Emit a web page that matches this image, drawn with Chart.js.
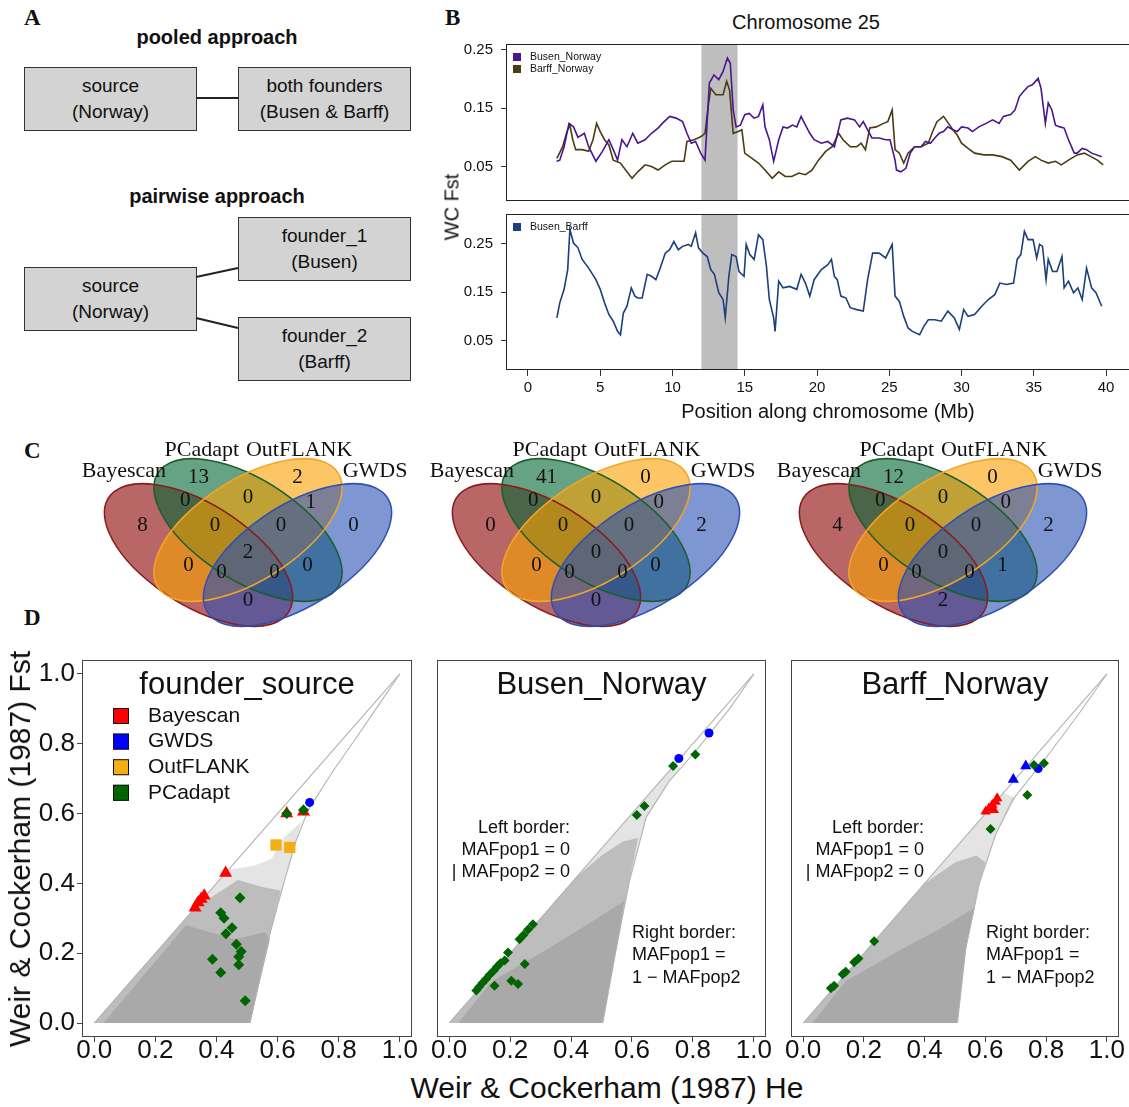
<!DOCTYPE html>
<html>
<head>
<meta charset="utf-8">
<title>Chromosome 25 Fst outliers</title>
<script src="https://cdn.jsdelivr.net/npm/chart.js@4.4.1/dist/chart.umd.min.js"></script>
<style>
  html, body { margin: 0; padding: 0; background: #fff; }
  body { position: relative; width: 1129px; height: 1107px; overflow: hidden;
         font-family: "Liberation Sans", Arial, sans-serif; color: #111; }
  canvas { position: absolute; }
  .letter { position: absolute; font: bold 23px "Liberation Serif", "Times New Roman", serif; }
  .head { position: absolute; font-weight: bold; font-size: 20px; line-height: 24px;
          white-space: nowrap; transform: translateX(-50%); }
  .node { position: absolute; box-sizing: border-box; width: 173px; height: 64px;
          border: 1.5px solid #333; background: #d3d3d3; text-align: center;
          font-size: 19px; line-height: 26px; padding-top: 5px; }
  .label { position: absolute; white-space: nowrap; }
</style>
</head>
<body>

<!-- A: sampling design -->
<div class="letter" style="left:24px;top:5px">A</div>
<div class="head" style="left:217px;top:25px">pooled approach</div>
<div class="node" style="left:24px;top:67px">source<br>(Norway)</div>
<div class="node" style="left:238px;top:67px">both founders<br>(Busen &amp; Barff)</div>
<div class="head" style="left:217px;top:184px">pairwise approach</div>
<div class="node" style="left:238px;top:217px">founder_1<br>(Busen)</div>
<div class="node" style="left:24px;top:267px">source<br>(Norway)</div>
<div class="node" style="left:238px;top:317px">founder_2<br>(Barff)</div>
<svg style="position:absolute;left:0;top:0" width="430" height="400">
  <g stroke="#222" stroke-width="2">
    <line x1="196" y1="98" x2="238" y2="98"/>
    <line x1="196" y1="277" x2="238" y2="268"/>
    <line x1="196" y1="318" x2="238" y2="328"/>
  </g>
</svg>

<!-- B: sliding window Fst -->
<div class="letter" style="left:445px;top:5px">B</div>
<div class="label" style="left:806px;top:11px;font-size:20px;transform:translateX(-50%)">Chromosome 25</div>
<canvas id="chrTop" width="720" height="193" style="left:430px;top:26px"></canvas>
<canvas id="chrBottom" width="720" height="232" style="left:430px;top:196px"></canvas>
<div class="label" style="left:452px;top:207px;font-size:20px;transform:translate(-50%,-50%) rotate(-90deg)">WC Fst</div>

<!-- C: Venn diagrams -->
<div class="letter" style="left:24px;top:438px">C</div>
<canvas id="venn1" width="350" height="215" style="left:73px;top:415px"></canvas>
<canvas id="venn2" width="350" height="215" style="left:420.5px;top:415px"></canvas>
<canvas id="venn3" width="350" height="215" style="left:768px;top:415px"></canvas>

<!-- D: Fst vs He -->
<div class="letter" style="left:24px;top:605px">D</div>
<canvas id="fst1" width="420" height="430" style="left:0;top:640px"></canvas>
<canvas id="fst2" width="360" height="430" style="left:420px;top:640px"></canvas>
<canvas id="fst3" width="354" height="430" style="left:775px;top:640px"></canvas>
<div class="label" style="left:20px;top:849px;font-size:30px;transform:translate(-50%,-50%) rotate(-90deg)">Weir &amp; Cockerham (1987) Fst</div>
<div class="label" style="left:607px;top:1071px;font-size:30px;transform:translateX(-50%)">Weir &amp; Cockerham (1987) He</div>

<script>
// ---------- B: WC Fst along chromosome 25 (Mb, Fst) ----------
const chromTicksX = [0, 5, 10, 15, 20, 25, 30, 35, 40];
const chromTicksY = [0.05, 0.15, 0.25];
const highlightMb = [12, 14.5];

const busenNorway = [
  [1.98,0.059],[2.2,0.061],[2.5,0.084],[2.84,0.124],[3.15,0.118],[3.46,0.100],[3.9,0.107],[4.2,0.084],
  [4.7,0.059],[5.15,0.076],[5.6,0.096],[5.9,0.079],[6.2,0.061],[6.5,0.096],[6.85,0.084],[7.25,0.107],
  [7.6,0.090],[8.1,0.096],[8.55,0.107],[9.0,0.116],[9.3,0.124],[9.8,0.136],[10.25,0.133],[10.7,0.127],
  [11.0,0.107],[11.3,0.090],[11.6,0.093],[11.95,0.073],[12.25,0.061],[12.55,0.193],[12.87,0.207],
  [13.2,0.199],[13.5,0.213],[13.8,0.236],[14.0,0.227],[14.2,0.147],[14.4,0.118],[14.7,0.121],
  [15.0,0.139],[15.3,0.141],[15.65,0.133],[15.95,0.136],[16.25,0.156],[16.4,0.118],[16.7,0.096],
  [17.0,0.059],[17.35,0.096],[17.65,0.118],[17.95,0.116],[18.3,0.121],[18.6,0.118],[18.9,0.136],
  [19.2,0.121],[19.5,0.107],[19.8,0.096],[20.3,0.090],[20.75,0.093],[21.2,0.084],[21.4,0.104],
  [21.65,0.130],[22.1,0.133],[22.6,0.130],[22.95,0.118],[23.2,0.127],[23.5,0.113],[23.8,0.099],
  [24.3,0.099],[24.75,0.096],[25.05,0.096],[25.4,0.061],[25.5,0.044],[25.8,0.041],[26.15,0.047],
  [26.45,0.073],[26.75,0.084],[27.2,0.084],[27.5,0.093],[27.85,0.090],[28.15,0.099],[28.45,0.107],
  [28.75,0.110],[29.05,0.118],[29.4,0.113],[29.7,0.110],[30.0,0.118],[30.45,0.116],[30.75,0.110],
  [31.2,0.118],[31.7,0.124],[32.15,0.130],[32.6,0.124],[32.9,0.136],[33.4,0.139],[33.7,0.147],
  [34.0,0.170],[34.3,0.179],[34.6,0.187],[34.9,0.190],[35.3,0.201],[35.5,0.184],[35.8,0.124],
  [36.0,0.159],[36.25,0.147],[36.5,0.121],[36.8,0.118],[37.1,0.116],[37.4,0.096],[37.8,0.073],
  [38.0,0.073],[38.35,0.081],[38.65,0.079],[39.0,0.073],[39.7,0.067]
];
const barffNorway = [
  [2.0,0.064],[2.4,0.084],[2.7,0.110],[2.9,0.121],[3.1,0.096],[3.3,0.079],[3.75,0.079],[4.2,0.076],
  [4.5,0.096],[4.75,0.124],[5.0,0.110],[5.3,0.096],[5.6,0.087],[5.9,0.061],[6.4,0.056],[6.85,0.041],
  [7.2,0.030],[7.6,0.041],[8.1,0.053],[8.55,0.050],[9.0,0.044],[9.5,0.053],[9.95,0.059],[10.4,0.059],
  [10.8,0.059],[11.0,0.093],[11.5,0.096],[11.95,0.101],[12.25,0.107],[12.5,0.159],[12.65,0.184],
  [13.0,0.173],[13.5,0.173],[13.75,0.196],[13.95,0.181],[14.2,0.107],[14.55,0.110],[14.8,0.113],
  [15.0,0.073],[15.5,0.064],[15.95,0.056],[16.4,0.044],[16.9,0.030],[17.35,0.041],[17.8,0.033],
  [18.25,0.033],[18.75,0.039],[19.2,0.036],[19.65,0.044],[20.1,0.061],[20.6,0.076],[21.05,0.084],
  [21.5,0.107],[21.8,0.096],[22.3,0.084],[22.75,0.084],[23.05,0.090],[23.35,0.079],[23.65,0.116],
  [24.1,0.118],[24.6,0.124],[24.9,0.127],[25.2,0.147],[25.4,0.079],[25.7,0.073],[26.0,0.056],
  [26.3,0.073],[26.75,0.084],[27.2,0.084],[27.7,0.090],[28.0,0.110],[28.3,0.127],[28.75,0.136],
  [29.1,0.124],[29.4,0.113],[29.7,0.104],[30.0,0.090],[30.45,0.081],[30.9,0.073],[31.55,0.070],
  [32.15,0.070],[32.8,0.067],[33.4,0.061],[34.0,0.044],[34.6,0.059],[35.1,0.067],[35.5,0.061],
  [36.0,0.056],[36.5,0.059],[36.9,0.053],[37.4,0.061],[38.0,0.070],[38.5,0.073],[38.95,0.067],
  [39.4,0.061],[39.8,0.053]
];
const busenBarff = [
  [2.0,0.097],[2.2,0.128],[2.5,0.156],[2.75,0.197],[2.9,0.280],[3.15,0.252],[3.46,0.242],[3.75,0.218],
  [4.2,0.200],[4.7,0.176],[5.0,0.156],[5.3,0.128],[5.6,0.104],[5.9,0.090],[6.2,0.069],[6.4,0.062],
  [6.6,0.107],[6.85,0.121],[7.15,0.159],[7.4,0.142],[7.6,0.138],[7.9,0.138],[8.25,0.187],[8.55,0.183],
  [8.85,0.176],[9.15,0.200],[9.5,0.231],[9.8,0.238],[10.1,0.255],[10.4,0.238],[10.7,0.245],
  [11.1,0.249],[11.3,0.245],[11.6,0.273],[11.8,0.242],[12.1,0.231],[12.4,0.224],[12.65,0.197],
  [12.9,0.187],[13.2,0.149],[13.5,0.135],[13.65,0.097],[13.9,0.183],[14.1,0.228],[14.4,0.224],
  [14.6,0.193],[14.95,0.183],[15.1,0.249],[15.35,0.228],[15.65,0.218],[15.95,0.269],[16.25,0.259],
  [16.5,0.204],[16.7,0.135],[17.0,0.097],[17.1,0.069],[17.35,0.173],[17.65,0.159],[18.1,0.162],
  [18.6,0.156],[18.9,0.187],[19.2,0.169],[19.5,0.142],[19.8,0.176],[20.3,0.197],[20.75,0.207],
  [21.0,0.218],[21.2,0.183],[21.4,0.176],[21.65,0.142],[22.0,0.138],[22.3,0.118],[22.75,0.114],
  [23.2,0.111],[23.5,0.176],[23.85,0.231],[24.3,0.231],[24.75,0.221],[25.2,0.249],[25.4,0.142],
  [25.7,0.131],[26.0,0.100],[26.3,0.076],[26.6,0.069],[27.1,0.062],[27.4,0.080],[27.7,0.093],
  [28.15,0.093],[28.6,0.090],[29.05,0.111],[29.5,0.097],[29.85,0.073],[30.15,0.114],[30.45,0.100],
  [30.9,0.104],[31.4,0.121],[31.85,0.135],[32.3,0.145],[32.65,0.169],[33.1,0.166],[33.6,0.169],
  [33.85,0.218],[34.1,0.228],[34.35,0.276],[34.6,0.259],[34.95,0.259],[35.2,0.221],[35.4,0.249],
  [35.6,0.245],[35.85,0.176],[36.0,0.218],[36.3,0.193],[36.6,0.193],[36.95,0.224],[37.1,0.159],
  [37.4,0.173],[37.75,0.149],[38.05,0.159],[38.35,0.135],[38.65,0.200],[39.0,0.159],[39.3,0.149],
  [39.7,0.121]
];

// ---------- C: outlier overlap counts ----------
const vennSetNames = ['Bayescan', 'PCadapt', 'OutFLANK', 'GWDS'];
// regions: A B C D AB BC CD ABC BCD ABCD AC ACD ABD BD AD  (A=Bayescan B=PCadapt C=OutFLANK D=GWDS)
const vennRegions = ['A','B','C','D','AB','BC','CD','ABC','BCD','ABCD','AC','ACD','ABD','BD','AD'];
const vennFounderSource = [8, 13, 2, 0, 0, 0, 1, 0, 0, 2, 0, 0, 0, 0, 0];
const vennBusenNorway   = [0, 41, 0, 2, 0, 0, 0, 0, 0, 0, 0, 0, 0, 0, 0];
const vennBarffNorway   = [4, 12, 0, 2, 0, 0, 0, 0, 0, 0, 0, 0, 0, 1, 2];

// ---------- D: Fst vs He (He, Fst) ----------
const fstTicks = [0, 0.2, 0.4, 0.6, 0.8, 1.0];
const methods = ['Bayescan', 'GWDS', 'OutFLANK', 'PCadapt'];
const panelTitles = ['founder_source', 'Busen_Norway', 'Barff_Norway'];
const leftNote = ['Left border:', 'MAFpop1 = 0', '| MAFpop2 = 0'];
const rightNote = ['Right border:', 'MAFpop1 =', '1 \u2212 MAFpop2'];

const edgeLeft = [[0,0],[1,1]];
const fsEdgeRight = [[0.51,0],[0.57,0.24],[0.62,0.40],[0.66,0.52],[0.70,0.61],[0.78,0.72],[0.86,0.82],[0.93,0.91],[1,1]];
const fsCloudSparse = [[0,0],[0.44,0.44],[0.52,0.45],[0.58,0.47],[0.62,0.53],[0.67,0.57],[0.68,0.58],[0.66,0.52],[0.62,0.40],[0.57,0.24],[0.51,0]];
const fsCloudMid = [[0,0],[0.33,0.33],[0.40,0.37],[0.47,0.41],[0.55,0.39],[0.61,0.38],[0.575,0.25],[0.51,0]];
const fsCloudDense = [[0.03,0],[0.30,0.28],[0.38,0.26],[0.46,0.24],[0.56,0.26],[0.575,0.24],[0.51,0]];
const fsBayescan = [[0.33,0.33],[0.34,0.345],[0.35,0.355],[0.36,0.365],[0.43,0.43],[0.63,0.60],[0.685,0.605]];
const fsGWDS = [[0.705,0.632]];
const fsOutFLANK = [[0.595,0.51],[0.64,0.503]];
const fsPCadapt = [[0.63,0.60],[0.685,0.61],[0.477,0.359],[0.414,0.316],[0.425,0.30],[0.451,0.273],[0.431,0.256],
  [0.465,0.226],[0.481,0.205],[0.473,0.19],[0.473,0.167],[0.387,0.183],[0.414,0.145],[0.494,0.064]];

const bnEdgeRight = [[0.504,0],[0.548,0.21],[0.59,0.40],[0.647,0.59],[0.72,0.69],[0.81,0.78],[0.92,0.9],[1,1]];
const bnCloudSparse = [[0,0],[0.74,0.74],[0.76,0.73],[0.72,0.69],[0.647,0.59],[0.59,0.40],[0.548,0.21],[0.504,0]];
const bnCloudMid = [[0,0],[0.42,0.42],[0.5,0.48],[0.57,0.52],[0.62,0.53],[0.59,0.40],[0.548,0.21],[0.504,0]];
const bnCloudDense = [[0.03,0],[0.14,0.12],[0.3,0.2],[0.45,0.28],[0.575,0.35],[0.548,0.21],[0.504,0]];
const bnGWDS = [[0.853,0.831],[0.754,0.758]];
const bnPCadapt = [[0.808,0.769],[0.735,0.736],[0.641,0.622],[0.616,0.596],[0.089,0.093],[0.098,0.103],
  [0.109,0.115],[0.121,0.126],[0.133,0.138],[0.146,0.15],[0.157,0.161],[0.168,0.171],[0.182,0.179],
  [0.193,0.202],[0.231,0.240],[0.244,0.252],[0.259,0.268],[0.275,0.283],[0.248,0.169],[0.149,0.107],
  [0.204,0.121],[0.226,0.112]];

const bfEdgeRight = [[0.508,0],[0.535,0.21],[0.58,0.40],[0.634,0.54],[0.69,0.64],[0.8,0.76],[0.908,0.886],[1,1]];
const bfCloudSparse = [[0,0],[0.66,0.66],[0.7,0.645],[0.634,0.54],[0.58,0.40],[0.535,0.21],[0.508,0]];
const bfCloudMid = [[0,0],[0.40,0.40],[0.5,0.46],[0.57,0.48],[0.6,0.46],[0.58,0.40],[0.535,0.21],[0.508,0]];
const bfCloudDense = [[0.03,0],[0.14,0.12],[0.3,0.2],[0.45,0.27],[0.565,0.33],[0.535,0.21],[0.508,0]];
const bfBayescan = [[0.601,0.606],[0.612,0.615],[0.623,0.625],[0.634,0.634],[0.639,0.644],[0.628,0.61]];
const bfGWDSTri = [[0.733,0.736],[0.692,0.698]];
const bfGWDS = [[0.774,0.729]];
const bfPCadapt = [[0.793,0.744],[0.76,0.739],[0.738,0.653],[0.617,0.556],[0.234,0.234],[0.182,0.185],
  [0.168,0.174],[0.14,0.147],[0.13,0.14],[0.102,0.107],[0.091,0.1]];

// ---------- styles ----------
const methodColor = { Bayescan: '#ff0000', GWDS: '#0000ff', OutFLANK: '#f5ad15', PCadapt: '#006400' };
const cloudColor = { sparse: '#e4e4e4', mid: '#bdbdbd', dense: '#a9a9a9' };
const vennFill = ['rgba(139,0,0,0.6)', 'rgba(0,100,50,0.6)', 'rgba(250,160,0,0.6)', 'rgba(40,80,180,0.6)'];
const vennLine = ['#8b1a1a', '#1b5e2c', '#f5a623', '#2f4fb0'];
const vennShape = { a: 0.36, b: 0.182 };
const vennEllipses = [
  { cx: 0.35, cy: 0.47, angle: -45 }, { cx: 0.5, cy: 0.57, angle: -45 },
  { cx: 0.5, cy: 0.57, angle: 45 },  { cx: 0.65, cy: 0.47, angle: 45 }
];
const vennLabelPos = {
  A: [0.18, 0.59], B: [0.35, 0.78], C: [0.65, 0.78], D: [0.82, 0.59],
  AB: [0.31, 0.69], BC: [0.5, 0.70], CD: [0.69, 0.68], ABC: [0.40, 0.59], BCD: [0.60, 0.59],
  ABCD: [0.5, 0.48], AC: [0.32, 0.43], ACD: [0.42, 0.40], ABD: [0.58, 0.40], BD: [0.68, 0.43], AD: [0.5, 0.29]
};
const vennNamePos = [[0.124, 0.806], [0.36, 0.89], [0.655, 0.89], [0.885, 0.806]];

Chart.defaults.font.family = '"Liberation Sans", Arial, sans-serif';
Chart.defaults.color = '#111';
Chart.defaults.animation = false;
Chart.defaults.events = [];
Chart.defaults.plugins.legend.display = false;
Chart.defaults.plugins.tooltip.enabled = false;

const toXY = pts => pts.map(([x, y]) => ({ x, y }));
const fixedTicks = vals => scale => { scale.ticks = vals.map(v => ({ value: v })); };

function boxPlugin(color) {
  return {
    id: 'box',
    afterDatasetsDraw(chart) {
      const { ctx, chartArea: a } = chart;
      ctx.save();
      ctx.strokeStyle = color;
      ctx.lineWidth = 1;
      ctx.strokeRect(Math.round(a.left) + 0.5, Math.round(a.top) + 0.5,
                     Math.round(a.right - a.left) - 1, Math.round(a.bottom - a.top) - 1);
      ctx.restore();
    }
  };
}

// grey band marking the candidate region
const bandPlugin = {
  id: 'band',
  beforeDatasetsDraw(chart) {
    const { ctx, chartArea: a, scales: { x } } = chart;
    const x0 = x.getPixelForValue(highlightMb[0]);
    const x1 = x.getPixelForValue(highlightMb[1]);
    ctx.save();
    ctx.fillStyle = '#bebebe';
    ctx.fillRect(x0, a.top, x1 - x0, a.bottom - a.top);
    ctx.restore();
  }
};

const chromLegend = {
  id: 'chromLegend',
  afterDatasetsDraw(chart) {
    const { ctx, chartArea: a } = chart;
    ctx.save();
    ctx.font = '10.5px "Liberation Sans", Arial, sans-serif';
    ctx.textBaseline = 'middle';
    chart.data.datasets.forEach((ds, i) => {
      const y = a.top + 13 + i * 12;
      ctx.fillStyle = ds.borderColor;
      ctx.fillRect(a.left + 7, y - 4, 8, 8);
      ctx.fillStyle = '#111';
      ctx.fillText(ds.label, a.left + 24, y);
    });
    ctx.restore();
  }
};

function makeChrom(id, series, yRange, withX) {
  return new Chart(document.getElementById(id), {
    type: 'scatter',
    data: {
      datasets: series.map(s => ({
        label: s.label, data: toXY(s.data), showLine: true, borderColor: s.color,
        backgroundColor: s.color, borderWidth: 1.6, pointRadius: 0, tension: 0
      }))
    },
    options: {
      responsive: false,
      layout: { padding: { top: 18, bottom: withX ? 0 : 18, left: 0, right: 0 } },
      scales: {
        x: {
          type: 'linear', min: -1.52, max: 43.04, display: withX,
          afterBuildTicks: fixedTicks(chromTicksX),
          afterFit: withX ? (s => { s.height = 58; }) : undefined,
          grid: { drawOnChartArea: false, tickLength: 6, color: '#333' },
          border: { display: false },
          ticks: { font: { size: 15 }, padding: 3, maxRotation: 0, autoSkip: false, callback: v => String(v) },
          title: { display: true, text: 'Position along chromosome (Mb)', font: { size: 20 }, padding: { top: 0, bottom: 4 } }
        },
        y: {
          min: yRange[0], max: yRange[1],
          afterBuildTicks: fixedTicks(chromTicksY),
          afterFit: s => { s.width = 76; },
          grid: { drawOnChartArea: false, tickLength: 5, color: '#333' },
          border: { display: false },
          ticks: { font: { size: 15 }, padding: 8, autoSkip: false, callback: v => v.toFixed(2) }
        }
      }
    },
    plugins: [bandPlugin, boxPlugin('#222'), chromLegend]
  });
}

makeChrom('chrTop', [
  { label: 'Busen_Norway', data: busenNorway, color: '#4a1590' },
  { label: 'Barff_Norway', data: barffNorway, color: '#4a3b12' }
], [-0.009, 0.26], false);

makeChrom('chrBottom', [
  { label: 'Busen_Barff', data: busenBarff, color: '#1c3f7e' }
], [-0.011, 0.312], true);

// ---------- Venn diagrams ----------
function vennPlugin(counts) {
  return {
    id: 'venn',
    afterDraw(chart) {
      const { ctx, scales: { x, y } } = chart;
      const kx = x.getPixelForValue(1) - x.getPixelForValue(0);
      const ky = y.getPixelForValue(0) - y.getPixelForValue(1);
      const trace = e => {
        ctx.save();
        ctx.translate(x.getPixelForValue(e.cx), y.getPixelForValue(e.cy));
        ctx.scale(kx, -ky);
        ctx.rotate(e.angle * Math.PI / 180);
        ctx.beginPath();
        ctx.ellipse(0, 0, vennShape.a, vennShape.b, 0, 0, Math.PI * 2);
        ctx.restore();
      };
      ctx.save();
      vennEllipses.forEach((e, i) => { trace(e); ctx.fillStyle = vennFill[i]; ctx.fill(); });
      ctx.lineWidth = 1.5;
      vennEllipses.forEach((e, i) => { trace(e); ctx.strokeStyle = vennLine[i]; ctx.stroke(); });
      ctx.fillStyle = '#111';
      ctx.textAlign = 'center';
      ctx.textBaseline = 'middle';
      ctx.font = '21px "Liberation Serif", "Times New Roman", serif';
      vennRegions.forEach((r, i) => {
        const p = vennLabelPos[r];
        ctx.fillText(String(counts[i]), x.getPixelForValue(p[0]), y.getPixelForValue(p[1]));
      });
      ctx.font = '22px "Liberation Serif", "Times New Roman", serif';
      vennSetNames.forEach((n, i) => {
        const p = vennNamePos[i];
        ctx.fillText(n, x.getPixelForValue(p[0]), y.getPixelForValue(p[1]));
      });
      ctx.restore();
    }
  };
}

function makeVenn(id, counts) {
  return new Chart(document.getElementById(id), {
    type: 'scatter',
    data: { datasets: [] },
    options: {
      responsive: false,
      layout: { padding: { left: 10, right: 10, top: 7.5, bottom: 0 } },
      scales: {
        x: { display: false, min: 0, max: 1 },
        y: { display: false, min: 0.17, max: 1 }
      }
    },
    plugins: [vennPlugin(counts)]
  });
}

makeVenn('venn1', vennFounderSource);
makeVenn('venn2', vennBusenNorway);
makeVenn('venn3', vennBarffNorway);

// ---------- Fst vs He panels ----------
function cloudPlugin(layers) {
  return {
    id: 'cloud',
    beforeDatasetsDraw(chart) {
      const { ctx, chartArea: a, scales: { x, y } } = chart;
      ctx.save();
      ctx.beginPath();
      ctx.rect(a.left, a.top, a.right - a.left, a.bottom - a.top);
      ctx.clip();
      layers.forEach(layer => {
        ctx.beginPath();
        layer.pts.forEach(([px, py], i) => {
          const cx = x.getPixelForValue(px), cy = y.getPixelForValue(py);
          if (i === 0) ctx.moveTo(cx, cy); else ctx.lineTo(cx, cy);
        });
        ctx.closePath();
        ctx.fillStyle = layer.color;
        ctx.fill();
      });
      ctx.restore();
    }
  };
}

function decorPlugin(cfg) {
  return {
    id: 'decor',
    afterDatasetsDraw(chart) {
      const { ctx, chartArea: a } = chart;
      ctx.save();
      ctx.fillStyle = '#111';
      ctx.textBaseline = 'middle';
      ctx.textAlign = 'center';
      ctx.font = '31px "Liberation Sans", Arial, sans-serif';
      ctx.fillText(cfg.title, (a.left + a.right) / 2, a.top + 25);
      if (cfg.legend) {
        ctx.font = '21px "Liberation Sans", Arial, sans-serif';
        ctx.textAlign = 'left';
        methods.forEach((m, i) => {
          const yy = a.top + 56 + i * 25.6;
          ctx.fillStyle = methodColor[m];
          ctx.fillRect(a.left + 31, yy - 8, 16, 16);
          ctx.strokeStyle = '#111';
          ctx.lineWidth = 1;
          ctx.strokeRect(a.left + 31.5, yy - 7.5, 15, 15);
          ctx.fillStyle = '#111';
          ctx.fillText(m, a.left + 66, yy);
        });
      }
      if (cfg.notes) {
        ctx.font = '18px "Liberation Sans", Arial, sans-serif';
        ctx.textAlign = 'right';
        leftNote.forEach((t, i) => ctx.fillText(t, a.left + 133, a.top + 168 + i * 22));
        ctx.textAlign = 'left';
        rightNote.forEach((t, i) => ctx.fillText(t, a.left + 195, a.top + 273 + i * 22.5));
      }
      ctx.restore();
    }
  };
}

const markerDefaults = { tri: 'triangle', dia: 'rectRot', dot: 'circle', sq: 'rect' };

function makeFst(id, cfg) {
  const edges = [edgeLeft, cfg.edgeRight].map(e => ({
    data: toXY(e), showLine: true, borderColor: '#b3b3b3', borderWidth: 1.1,
    pointRadius: 0, order: 10
  }));
  const marks = cfg.marks.map(m => ({
    label: m.method, data: toXY(m.data), pointStyle: markerDefaults[m.shape],
    pointRadius: m.r, backgroundColor: methodColor[m.method], borderWidth: 0, order: m.order
  }));
  return new Chart(document.getElementById(id), {
    type: 'scatter',
    data: { datasets: edges.concat(marks) },
    options: {
      responsive: false,
      layout: { padding: cfg.padding },
      scales: {
        x: {
          min: -0.04, max: 1.04,
          afterBuildTicks: fixedTicks(fstTicks),
          afterFit: s => { s.height = 33; },
          grid: { drawOnChartArea: false, tickLength: 5, color: '#444' },
          border: { display: false },
          ticks: { font: { size: 26, lineHeight: 1 }, padding: -4, maxRotation: 0, autoSkip: false,
                   callback: v => v.toFixed(1) }
        },
        y: {
          min: -0.04, max: 1.04, display: cfg.showY,
          afterBuildTicks: fixedTicks(fstTicks),
          afterFit: cfg.showY ? (s => { s.width = 82; }) : undefined,
          grid: { drawOnChartArea: false, tickLength: 5, color: '#444' },
          border: { display: false },
          ticks: { font: { size: 26 }, padding: 2, autoSkip: false, callback: v => v.toFixed(1) }
        }
      }
    },
    plugins: [
      cloudPlugin([
        { pts: cfg.clouds[0], color: cloudColor.sparse },
        { pts: cfg.clouds[1], color: cloudColor.mid },
        { pts: cfg.clouds[2], color: cloudColor.dense }
      ]),
      boxPlugin('#444'),
      decorPlugin({ title: cfg.title, legend: cfg.legend, notes: cfg.notes })
    ]
  });
}

makeFst('fst1', {
  title: panelTitles[0], legend: true, notes: false, showY: true,
  padding: { top: 20, right: 8, left: 0, bottom: 0 },
  clouds: [fsCloudSparse, fsCloudMid, fsCloudDense], edgeRight: fsEdgeRight,
  marks: [
    { method: 'PCadapt', data: fsPCadapt, shape: 'dia', r: 5.5, order: 1 },
    { method: 'OutFLANK', data: fsOutFLANK, shape: 'sq', r: 8, order: 2 },
    { method: 'GWDS', data: fsGWDS, shape: 'dot', r: 4.5, order: 3 },
    { method: 'Bayescan', data: fsBayescan, shape: 'tri', r: 7.5, order: 4 }
  ]
});

makeFst('fst2', {
  title: panelTitles[1], legend: false, notes: true, showY: false,
  padding: { top: 20, right: 14, left: 17, bottom: 0 },
  clouds: [bnCloudSparse, bnCloudMid, bnCloudDense], edgeRight: bnEdgeRight,
  marks: [
    { method: 'PCadapt', data: bnPCadapt, shape: 'dia', r: 5, order: 1 },
    { method: 'GWDS', data: bnGWDS, shape: 'dot', r: 4.5, order: 3 }
  ]
});

makeFst('fst3', {
  title: panelTitles[2], legend: false, notes: true, showY: false,
  padding: { top: 20, right: 10, left: 16, bottom: 0 },
  clouds: [bfCloudSparse, bfCloudMid, bfCloudDense], edgeRight: bfEdgeRight,
  marks: [
    { method: 'PCadapt', data: bfPCadapt, shape: 'dia', r: 5, order: 1 },
    { method: 'GWDS', data: bfGWDS, shape: 'dot', r: 4.5, order: 2 },
    { method: 'GWDS', data: bfGWDSTri, shape: 'tri', r: 6.5, order: 3 },
    { method: 'Bayescan', data: bfBayescan, shape: 'tri', r: 6, order: 4 }
  ]
});
</script>
</body>
</html>
